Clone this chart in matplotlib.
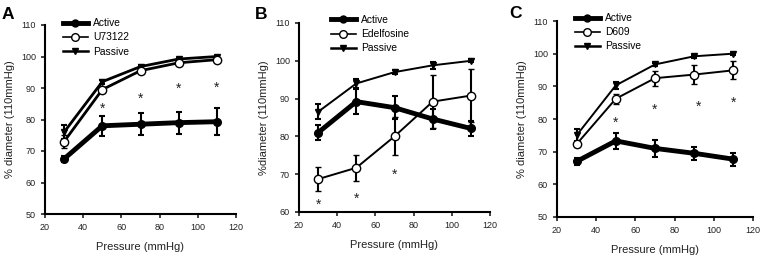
import matplotlib
matplotlib.use('Agg')
from matplotlib import pyplot as plt
from matplotlib.lines import Line2D
import numpy as np

plt.rcParams['font.family'] = ['Liberation Sans', 'DejaVu Sans']

pressure = [30, 50, 70, 90, 110]

# panel A
a_active = [67.5, 78.0, 78.5, 79.0, 79.3]
a_active_err = [1.0, 3.2, 3.5, 3.5, 4.2]
a_drug = [73.0, 89.5, 95.5, 98.0, 99.0]
a_drug_err = [2.0, 0.8, 0.5, 0.5, 0.5]
a_passive = [76.0, 92.0, 96.8, 99.2, 100.0]
a_passive_err = [2.3, 0.6, 0.4, 0.4, 0.3]
a_star_x = [50, 70, 90, 110]
a_star_y = [84.6, 87.8, 90.8, 91.3]

# panel B
b_active = [81.0, 89.2, 87.6, 84.6, 82.1]
b_active_err = [2.0, 3.3, 3.0, 2.7, 2.0]
b_drug = [68.7, 71.7, 80.0, 89.2, 90.8]
b_drug_err = [3.2, 3.5, 5.0, 7.0, 7.0]
b_passive = [86.5, 94.0, 97.0, 98.8, 100.0]
b_passive_err = [2.0, 1.3, 0.5, 1.0, 0.4]
b_star_x = [30, 50, 70]
b_star_y = [62.7, 64.5, 70.7]

# panel C
c_active = [67.0, 73.3, 71.0, 69.5, 67.7]
c_active_err = [1.0, 2.5, 2.7, 2.0, 2.0]
c_drug = [72.3, 86.2, 92.5, 93.6, 94.9]
c_drug_err = [1.0, 1.5, 2.3, 2.8, 2.8]
c_passive = [75.0, 90.3, 96.7, 99.2, 100.0]
c_passive_err = [1.8, 1.0, 0.4, 0.4, 0.3]
c_star_x = [50, 70, 92, 110]
c_star_y = [80.0, 84.0, 84.8, 86.1]

panels = [
    dict(letter='A', drug='U73122', ylabel='% diameter (110mmHg)', ylim=(50, 110),
         active=(a_active, a_active_err), drugv=(a_drug, a_drug_err), passive=(a_passive, a_passive_err),
         stars=(a_star_x, a_star_y), rect=[45 / 761, 1 - 214 / 262, 191 / 761, 189 / 262],
         leg=(0.094, 1.035), lw=2.0, letter_xy=(2, 19)),
    dict(letter='B', drug='Edelfosine', ylabel='%diameter (110mmHg)', ylim=(60, 110),
         active=(b_active, b_active_err), drugv=(b_drug, b_drug_err), passive=(b_passive, b_passive_err),
         stars=(b_star_x, b_star_y), rect=[299 / 761, 1 - 212 / 262, 191 / 761, 189 / 262],
         leg=(0.168, 1.042), lw=1.4, letter_xy=(255, 19)),
    dict(letter='C', drug='D609', ylabel='% diameter (110mmHg)', ylim=(50, 110),
         active=(c_active, c_active_err), drugv=(c_drug, c_drug_err), passive=(c_passive, c_passive_err),
         stars=(c_star_x, c_star_y), rect=[557 / 761, 1 - 217 / 262, 196 / 761, 196 / 262],
         leg=(0.092, 1.04), lw=1.4, letter_xy=(509, 18)),
]

fig = plt.figure(figsize=(7.61, 2.62), dpi=100)

for p in panels:
    ax = fig.add_axes(p['rect'])
    lw = p['lw']
    ax.errorbar(pressure, p['passive'][0], yerr=p['passive'][1], color='black', lw=lw,
                marker='v', ms=5, capsize=2, elinewidth=1.5, capthick=1.5, zorder=3)
    ax.errorbar(pressure, p['drugv'][0], yerr=p['drugv'][1], color='black', lw=lw,
                marker='o', ms=6, mfc='white', mec='black', mew=1.0, capsize=2,
                elinewidth=1.5, capthick=1.5, zorder=4)
    ax.errorbar(pressure, p['active'][0], yerr=p['active'][1], color='black', lw=3.5,
                marker='o', ms=5.5, capsize=2, elinewidth=1.5, capthick=1.5, zorder=5)
    for sx, sy in zip(*p['stars']):
        ax.annotate('*', (sx, sy), xytext=(0, -2.5), textcoords='offset points',
                    ha='center', va='center', fontsize=10, color='#222222')

    ax.set_xlim(20, 120)
    ax.set_ylim(*p['ylim'])
    ax.set_xticks(np.arange(20, 121, 20))
    ax.set_yticks(np.arange(p['ylim'][0], 111, 10))
    ax.spines['top'].set_visible(False)
    ax.spines['right'].set_visible(False)
    ax.spines['left'].set_linewidth(1.5)
    ax.spines['bottom'].set_linewidth(1.5)
    ax.tick_params(direction='out', length=3, width=1.2, labelsize=6.5, colors='#222222')
    ax.set_xlabel('Pressure (mmHg)', fontsize=8, color='#222222', labelpad=7)
    ax.set_ylabel(p['ylabel'], fontsize=8, color='#222222', labelpad=4)

    handles = [
        Line2D([], [], color='black', lw=3.5, marker='o', ms=5),
        Line2D([], [], color='black', lw=1.2, marker='o', ms=5.5, mfc='white', mec='black'),
        Line2D([], [], color='black', lw=1.8, marker='v', ms=5),
    ]
    ax.legend(handles, ['Active', p['drug'], 'Passive'], loc='upper left',
              bbox_to_anchor=p['leg'], frameon=False, fontsize=7.4, borderpad=0,
              borderaxespad=0, handlelength=2.4, handletextpad=0.5, labelspacing=0.4)

    fig.text(p['letter_xy'][0] / 761, 1 - p['letter_xy'][1] / 262, p['letter'],
             fontsize=12.5, fontweight='bold', ha='left', va='baseline')

fig.savefig('out.png', dpi=100)
